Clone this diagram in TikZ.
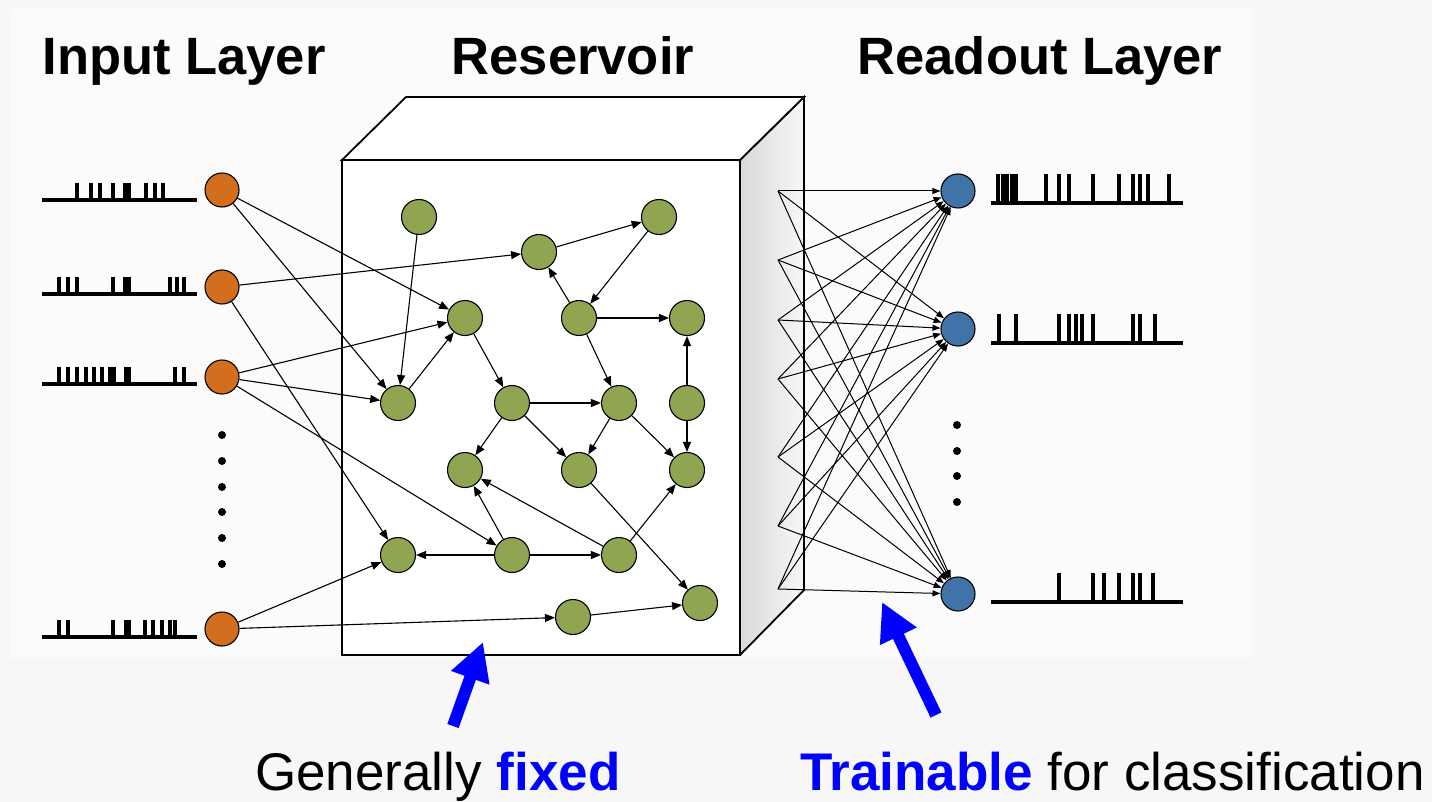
\documentclass[tikz,border=0pt]{standalone}
\usepackage{fontspec}
\setmainfont{Liberation Sans}
\usetikzlibrary{arrows.meta,calc}
\definecolor{bgout}{RGB}{247,247,247}
\definecolor{bgpanel}{RGB}{251,251,251}
\definecolor{orangeN}{RGB}{210,110,30}
\definecolor{greenN}{RGB}{143,165,82}
\definecolor{blueN}{RGB}{64,116,168}
\newcommand{\spiketrain}[5]{%
  \draw[spk] (#1,#3) -- (#2,#3);
  \foreach \sx in {#5} {\draw[spk] (\sx,#3) -- (\sx,#3-#4);}
}
\begin{document}
\begin{tikzpicture}[x=1pt,y=-1pt,
  inp/.style={circle,draw,fill=orangeN,minimum size=34,inner sep=0,line width=1.1},
  res/.style={circle,draw,fill=greenN,minimum size=35,inner sep=0,line width=1.1},
  outn/.style={circle,draw,fill=blueN,minimum size=34,inner sep=0,line width=1.1},
  edge/.style={line width=1.1,-{Triangle[length=10,width=8]}},
  rdo/.style={line width=1.0,-{Triangle[length=8,width=6]}},
  spk/.style={line width=3.2},
  dotm/.style={circle,fill=black,inner sep=0,minimum size=8},
  title/.style={font=\fontsize{52.5}{60}\selectfont\bfseries,anchor=base,inner sep=0},
  captxt/.style={font=\fontsize{53}{60}\selectfont,anchor=base west,inner sep=0},
  bigarrow/.style={draw=blue,line width=12,-{Triangle[length=38,width=38]}}
]
\useasboundingbox (0,0) rectangle (1432,802);
\fill[bgout] (0,0) rectangle (1432,802);
\fill[bgpanel] (11,9) rectangle (1252,658);

% titles
\node[title] (tin) at (184,75) {Input Layer};
\node[title] (tres) at (573,75) {Reservoir};
\node[title] (tout) at (1040,75) {Readout Layer};

% reservoir box
\coordinate (f1) at (342,160);
\coordinate (f2) at (740,160);
\coordinate (f3) at (740,655);
\coordinate (f4) at (342,655);
\coordinate (b1) at (406,97);
\coordinate (b2) at (804,97);
\coordinate (b3) at (804,590);
\shade[left color=black!15,right color=black!3] (f2)--(b2)--(b3)--(f3)--cycle;
\draw[line width=1.8,line join=miter] (f2)--(b2)--(b3)--(f3);
\filldraw[fill=white,line width=1.8] (f1)--(b1)--(b2)--(f2)--cycle;
\filldraw[fill=white,line width=1.8] (f1) rectangle (f3);

% input nodes
\node[inp] (i1) at (222,190) {};
\node[inp] (i2) at (222,287) {};
\node[inp] (i3) at (222,377) {};
\node[inp] (i4) at (222,629) {};
\foreach \y [count=\k] in {435,461,487,512,538,564} \node[dotm] (ld\k) at (222,\y) {};

% spike trains (input)
\spiketrain{42}{197}{200}{17}{77,91,100,113,125,129,146,155,163}
\spiketrain{42}{197}{294}{17}{59,68,77,113,125,129,170,177,184}
\spiketrain{42}{197}{384}{17}{59,68,77,86,94,102,110,114,126,129,175,184}
\spiketrain{42}{197}{637}{17}{59,68,113,126,129,145,153,162,170,175}

% reservoir nodes
\node[res] (A) at (419,217) {};
\node[res] (B) at (539,252) {};
\node[res] (C) at (659,217) {};
\node[res] (D) at (465,318) {};
\node[res] (E) at (579,318) {};
\node[res] (F) at (687,318) {};
\node[res] (G) at (398,403) {};
\node[res] (H) at (512,403) {};
\node[res] (I) at (619,403) {};
\node[res] (J) at (687,403) {};
\node[res] (K) at (465,470) {};
\node[res] (L) at (579,470) {};
\node[res] (M) at (687,470) {};
\node[res] (N) at (398,555) {};
\node[res] (O) at (512,555) {};
\node[res] (P) at (619,555) {};
\node[res] (Q) at (573,617) {};
\node[res] (R) at (700,603) {};

% reservoir edges
\foreach \a/\b in {A/G,B/C,C/E,E/B,E/F,E/I,D/H,G/D,H/I,H/K,H/L,I/L,I/M,J/F,J/M,L/R,O/N,O/P,O/K,P/K,P/M,Q/R}
  \draw[edge] (\a) -- (\b);

% input edges
\foreach \a/\b in {i1/D,i1/G,i2/B,i2/N,i3/D,i3/G,i3/O,i4/N,i4/Q}
  \draw[edge] (\a) -- (\b);

% readout nodes
\node[outn] (o1) at (958,191) {};
\node[outn] (o2) at (958,329) {};
\node[outn] (o3) at (958,594) {};
\foreach \y [count=\k] in {425,451,476,502} \node[dotm] (rd\k) at (957,\y) {};

% readout connections
\foreach \y [count=\k] in {191,260,320,379,457,526,589} {
  \coordinate (s\k) at (778,\y);
  \foreach \o in {o1,o2,o3} \draw[rdo] (s\k) -- (\o);
}

% spike trains (output)
\spiketrain{991}{1183}{203}{29}{998,1003,1007,1012,1016,1046,1059,1069,1093,1119,1133,1140,1148,1169}
\spiketrain{991}{1183}{343}{29}{999,1016,1059,1069,1076,1082,1093,1133,1140,1155}
\spiketrain{991}{1183}{602}{29}{1059,1093,1104,1119,1133,1140,1153}

% blue arrows
\coordinate (a1s) at (453,726);
\coordinate (a1e) at (483,642);
\draw[bigarrow] (a1s) -- (a1e);
\coordinate (a2s) at (936,715);
\coordinate (a2e) at (882,602);
\draw[bigarrow] (a2s) -- (a2e);

% captions
\node[captxt] (c1) at (255,790) {Generally \textcolor{blue}{\bfseries fixed}};
\node[captxt] (c2) at (800,790) {\textcolor{blue}{\bfseries Trainable} for classification};
\end{tikzpicture}
\end{document}
